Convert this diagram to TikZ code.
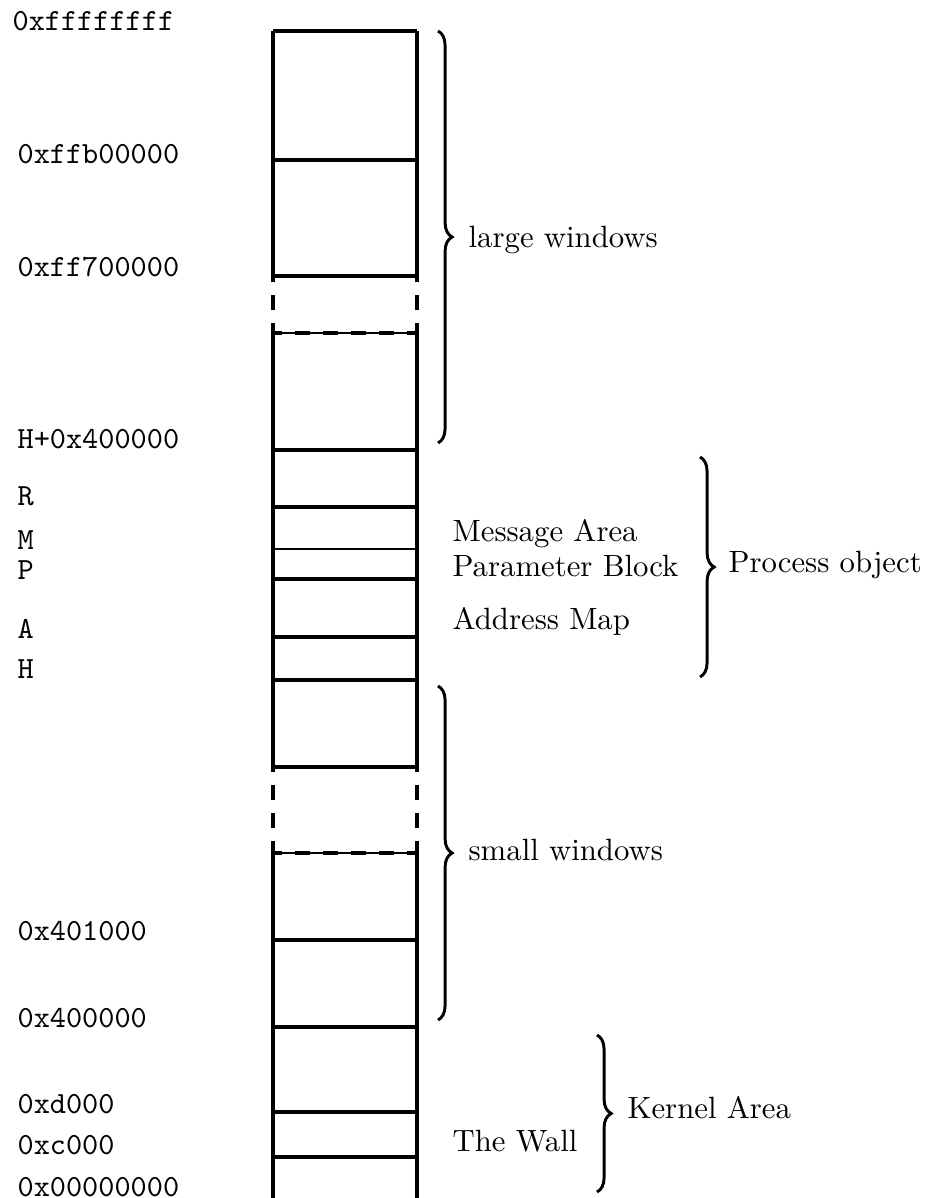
\documentclass[tikz,border=0pt]{standalone}
\usetikzlibrary{decorations.pathreplacing}
\begin{document}
\begin{tikzpicture}[x=0.325pt,y=-0.325pt,
  wall/.style={line width=1.05pt},
  hairwall/.style={line width=0.55pt},
  gapwall/.style={line width=1.05pt, dash pattern=on 4.9pt off 4.2pt},
  addr/.style={anchor=mid west, inner sep=0pt, font=\ttfamily},
  lbl/.style={anchor=mid west, inner sep=0pt},
  grp/.style={decorate, decoration={brace, amplitude=4.6pt}, line width=0.95pt}]
\useasboundingbox (0,0) rectangle (929,1198);

% ---- memory column: left and right walls ----
\coordinate (topL) at (273,31);   \coordinate (topR) at (417,31);
\coordinate (g1aL) at (273,276);  \coordinate (g1aR) at (417,276);
\coordinate (g1bL) at (273,333);  \coordinate (g1bR) at (417,333);
\coordinate (g2aL) at (273,767);  \coordinate (g2aR) at (417,767);
\coordinate (g2bL) at (273,853);  \coordinate (g2bR) at (417,853);
\coordinate (botL) at (273,1200); \coordinate (botR) at (417,1200);

\draw[wall] (topL) -- (g1aL) (topR) -- (g1aR);
\draw[gapwall, dash phase=2.9pt] (g1aL) -- (g1bL) (g1aR) -- (g1bR);
\draw[wall] (g1bL) -- (g2aL) (g1bR) -- (g2aR);
\draw[gapwall, dash phase=3.25pt] (g2aL) -- (g2bL) (g2aR) -- (g2bR);
\draw[wall] (g2bL) -- (botL) (g2bR) -- (botR);

% ---- region boundaries ----
\foreach \y in {31,160,276,450,507,579,637,680,767,940,1027,1112,1157}
  \draw[wall] (273,\y) -- (417,\y);
\draw[hairwall] (273,549) -- (417,549);
\draw[hairwall] (g1bL) -- (g1bR);
\draw[gapwall, dash phase=1.95pt] (g1bL) -- (g1bR);
\draw[hairwall] (g2bL) -- (g2bR);
\draw[gapwall, dash phase=1.95pt] (g2bL) -- (g2bR);

% ---- addresses ----
\node[addr] (aTop)  at (12,24)   {0xffffffff};
\node[addr] (aFFB)  at (17,157)  {0xffb00000};
\node[addr] (aFF7)  at (17,270)  {0xff700000};
\node[addr] (aH4)   at (17,442)  {H+0x400000};
\node[addr] (aR)    at (17,499)  {R};
\node[addr] (aM)    at (17,543)  {M};
\node[addr] (aP)    at (17,573)  {P};
\node[addr] (aA)    at (17,632)  {A};
\node[addr] (aH)    at (17,672)  {H};
\node[addr] (a401)  at (17,934)  {0x401000};
\node[addr] (a400)  at (17,1021) {0x400000};
\node[addr] (aD)    at (17,1107) {0xd000};
\node[addr] (aC)    at (17,1148) {0xc000};
\node[addr] (aZero) at (17,1190) {0x00000000};

% ---- region names ----
\node[lbl] (msg)  at (452,535)  {Message Area};
\node[lbl] (par)  at (452,570)  {Parameter Block};
\node[lbl] (amap) at (452,623)  {Address Map};
\node[lbl] (wall) at (452,1145) {The Wall};

% ---- groupings ----
\coordinate (lwT) at (438,31);   \coordinate (lwB) at (438,443);
\coordinate (poT) at (700,457);  \coordinate (poB) at (700,677);
\coordinate (swT) at (438,686);  \coordinate (swB) at (438,1020);
\coordinate (kaT) at (597,1035); \coordinate (kaB) at (597,1192);

\draw[grp] (lwT) -- (lwB);
\draw[grp] (poT) -- (poB);
\draw[grp] (swT) -- (swB);
\draw[grp] (kaT) -- (kaB);

\node[lbl] (lw) at (468,241)  {large windows};
\node[lbl] (po) at (728,566)  {Process object};
\node[lbl] (sw) at (468,854)  {small windows};
\node[lbl] (ka) at (627,1112) {Kernel Area};
\end{tikzpicture}
\end{document}
